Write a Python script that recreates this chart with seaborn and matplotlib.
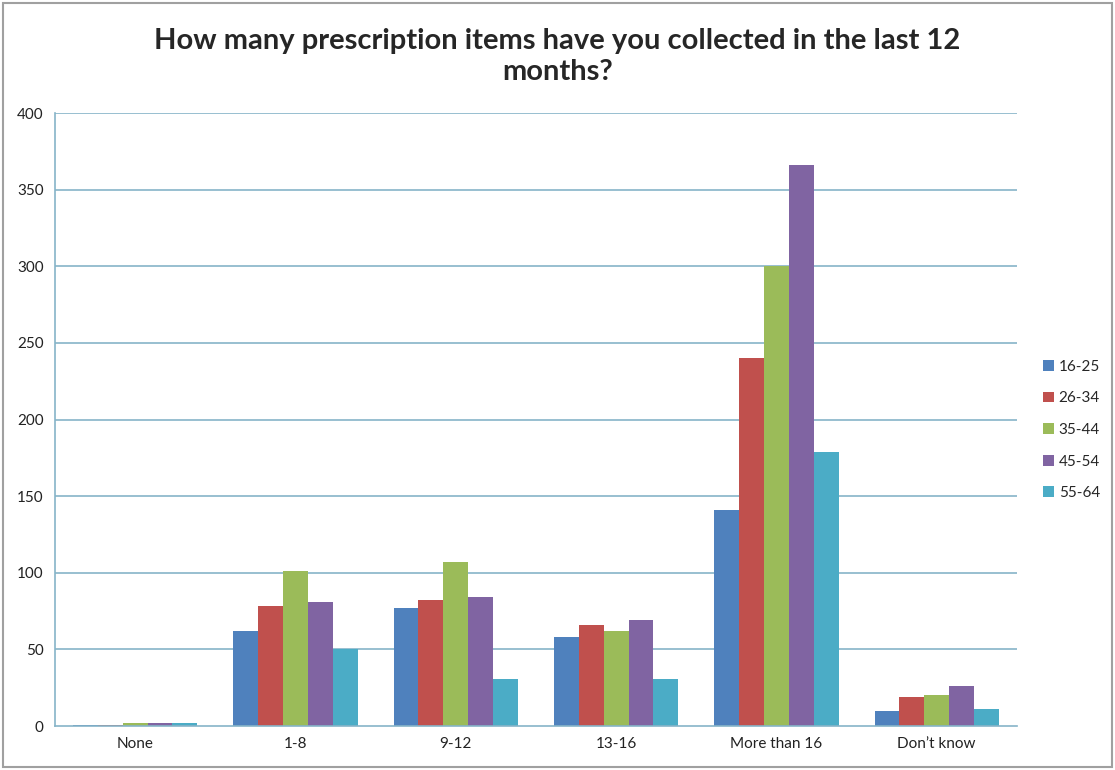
import pandas as pd
import matplotlib
matplotlib.use("Agg")
import matplotlib.pyplot as plt
import matplotlib.patches as mpatches
import seaborn as sns

# Data
categories = ["None", "1-8", "9-12", "13-16", "More than 16", "Don\u2019t know"]
age_groups = ["16-25", "26-34", "35-44", "45-54", "55-64"]
age_16_25 = [1, 62, 77, 58, 141, 10]
age_26_34 = [1, 78, 82, 66, 240, 19]
age_35_44 = [2, 101, 107, 62, 300, 20]
age_45_54 = [2, 81, 84, 69, 366, 26]
age_55_64 = [2, 50, 31, 31, 179, 11]
colors = ["#4F81BD", "#C0504D", "#9BBB59", "#8064A2", "#4BACC6"]

series = [age_16_25, age_26_34, age_35_44, age_45_54, age_55_64]
rows = []
for grp, vals in zip(age_groups, series):
    for cat, v in zip(categories, vals):
        rows.append({"category": cat, "age": grp, "count": v})
df = pd.DataFrame(rows)

sns.set_style("white")
plt.rcParams["font.family"] = ["Lato", "DejaVu Sans"]

fig = plt.figure(figsize=(11.15, 7.7), dpi=100)
ax = fig.add_axes([0.0493, 0.0571, 0.8627, 0.7961])

sns.barplot(data=df, x="category", y="count", hue="age", order=categories,
            hue_order=age_groups, palette=colors, width=0.775, gap=0,
            saturation=1, linewidth=0, ax=ax)

ax.set_ylim(0, 400)
ax.set_yticks(range(0, 401, 50))
ax.set_xlim(-0.5, len(categories) - 0.5)
grid_color = "#86B4C8"
for y in range(50, 401, 50):
    ax.axhline(y, color=grid_color, linewidth=1.2, zorder=0)
ax.set_axisbelow(True)
for s in ["top", "right"]:
    ax.spines[s].set_visible(False)
ax.spines["left"].set_color(grid_color)
ax.spines["bottom"].set_color(grid_color)
ax.spines["left"].set_linewidth(1.2)
ax.spines["bottom"].set_linewidth(1.2)
ax.tick_params(axis="both", length=0, labelsize=11, colors="#222222", pad=8)
ax.set_xlabel("")
ax.set_ylabel("")

ax.legend(loc="center left", bbox_to_anchor=(0.929, 0.4416), bbox_transform=fig.transFigure,
          frameon=False, fontsize=11, handlelength=0.7, handleheight=0.7,
          handletextpad=0.3, labelspacing=1.15, borderpad=0)

fig.text(0.5, 0.927, "How many prescription items have you collected in the last 12\nmonths?",
         ha="center", va="center", fontsize=21, fontweight="bold", linespacing=1.25)

fig.patches.append(mpatches.Rectangle((0.003, 0.004), 0.994, 0.992, transform=fig.transFigure,
                                      fill=False, edgecolor="#A0A0A0", linewidth=1.5))

fig.savefig("out.png", dpi=100)
